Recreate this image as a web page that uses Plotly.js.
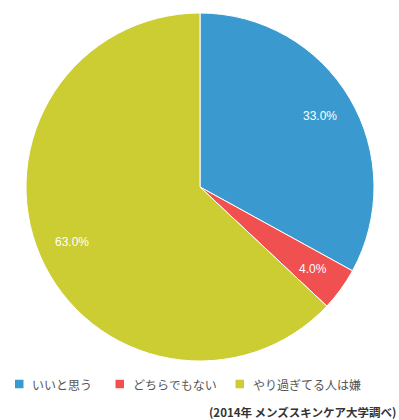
<!DOCTYPE html>
<html>
<head>
<meta charset="utf-8">
<script src="https://cdn.plot.ly/plotly-3.0.1.min.js"></script>
<style>html,body{margin:0;padding:0;background:#fff;}#chart{width:399px;height:420px;}</style>
</head>
<body>
<div id="chart"></div>
<script>
var categories = ["いいと思う", "どちらでもない", "やり過ぎてる人は嫌"];
var values = [33.0, 4.0, 63.0];
var colors = ["#3a9ad0", "#f05050", "#cccc33"];
var sourceNote = "(2014年 メンズスキンケア大学調べ)";

var W = 399, H = 420;
var cx = 200, cy = 187, R = 174;
var dom = {
  x: [(cx - R) / W, (cx + R) / W],
  y: [1 - (cy + R) / H, 1 - (cy - R) / H]
};

var total = values.reduce(function(a, b){ return a + b; }, 0);
var annotations = [];
var shapes = [];
var cum = 0;
values.forEach(function(v){
  var mid = (cum + v / 2) / total * 2 * Math.PI;
  cum += v;
  var r = 0.8 * R;
  var px = cx + r * Math.sin(mid);
  var py = cy - r * Math.cos(mid);
  annotations.push({
    x: px / W, y: 1 - py / H, xref: 'paper', yref: 'paper',
    text: v.toFixed(1) + '%', showarrow: false,
    font: {family: 'Liberation Sans, Arial, sans-serif', size: 12, color: '#ffffff'},
    xanchor: 'center', yanchor: 'middle'
  });
});

// legend (layout positions)
var legendX = [15, 115.5, 235.5];
var legendY = 384;
var sq = 8.5;
categories.forEach(function(c, i){
  shapes.push({
    type: 'rect', xref: 'paper', yref: 'paper',
    x0: legendX[i] / W, x1: (legendX[i] + sq) / W,
    y0: 1 - (legendY + sq / 2) / H, y1: 1 - (legendY - sq / 2) / H,
    fillcolor: colors[i], line: {width: 0}
  });
  annotations.push({
    x: (legendX[i] + 15) / W, y: 1 - legendY / H, xref: 'paper', yref: 'paper',
    xanchor: 'left', yanchor: 'middle', showarrow: false,
    text: c,
    font: {family: 'Noto Sans CJK JP, sans-serif', size: 12, color: '#555555'}
  });
});

annotations.push({
  x: 398 / W, y: 1 - 412 / H, xref: 'paper', yref: 'paper', xanchor: 'right', yanchor: 'middle',
  text: '<b>' + sourceNote + '</b>', showarrow: false,
  font: {family: 'Noto Sans CJK JP, sans-serif', size: 11.5, color: '#333333'}
});

var trace = {
  type: 'pie',
  labels: categories,
  values: values,
  marker: {colors: colors, line: {color: '#ffffff', width: 1}},
  sort: false,
  direction: 'clockwise',
  rotation: 0,
  textinfo: 'none',
  hoverinfo: 'none',
  domain: dom
};

var layout = {
  width: W, height: H,
  margin: {l: 0, r: 0, t: 0, b: 0},
  paper_bgcolor: '#ffffff',
  showlegend: false,
  annotations: annotations,
  shapes: shapes
};

Plotly.newPlot('chart', [trace], layout, {displayModeBar: false, staticPlot: true});
</script>
</body>
</html>
